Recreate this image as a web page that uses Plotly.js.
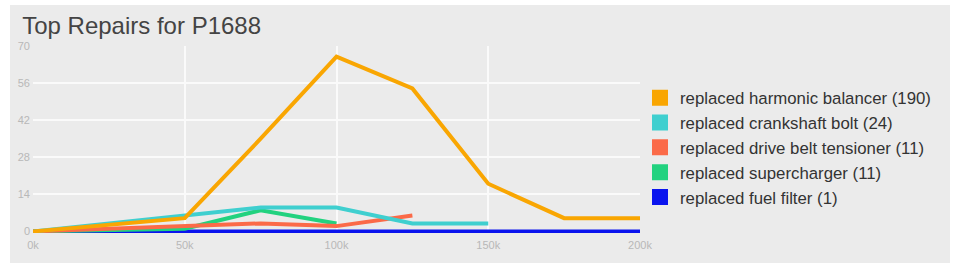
<!DOCTYPE html>
<html><head><meta charset="utf-8">
<script src="https://cdn.plot.ly/plotly-3.0.1.min.js"></script>
<style>
html,body{margin:0;padding:0;background:#fff;width:956px;height:270px;overflow:hidden}
#chart{position:absolute;left:10px;top:5px;width:940px;height:258px}
</style></head>
<body><div id="chart"></div>
<script>
const mileage = [0, 50000, 75000, 100000, 125000, 150000, 175000, 200000];
const seriesNames = [
  "replaced harmonic balancer (190)",
  "replaced crankshaft bolt (24)",
  "replaced drive belt tensioner (11)",
  "replaced supercharger (11)",
  "replaced fuel filter (1)"
];
const harmonicBalancer = [0, 5, 35, 66, 54, 18, 5, 5];
const crankshaftBolt   = [0, 6, 9, 9, 3, 3, null, null];
const beltTensioner    = [0, 2, 3, 2, 6, null, null, null];
const supercharger     = [0, 1, 8, 3, null, null, null, null];
const fuelFilter       = [0, 0, 0, 0, 0, 0, 0, 0];
const xTickVals = [0, 50000, 100000, 150000, 200000];
const xTickText = ["0k", "50k", "100k", "150k", "200k"];
const yTickVals = [0, 14, 28, 42, 56, 70];

const colors = ["#f9a602", "#3fcfcf", "#fb6a48", "#22d27f", "#0a14ee"];
const values = [harmonicBalancer, crankshaftBolt, beltTensioner, supercharger, fuelFilter];

const traces = [];
const drawOrder = [4, 3, 2, 1, 0];
drawOrder.forEach(i => {
  traces.push({
    x: mileage, y: values[i], type: "scatter", mode: "lines",
    line: {color: colors[i], width: 4},
    name: seriesNames[i], showlegend: false,
    connectgaps: false, hoverinfo: "skip"
  });
});
seriesNames.forEach((n, i) => {
  traces.push({
    x: [null], y: [null], type: "scatter", mode: "markers",
    marker: {color: colors[i], symbol: "square", size: 16},
    name: n, showlegend: true
  });
});

const layout = {
  width: 940, height: 258,
  paper_bgcolor: "#ebebeb", plot_bgcolor: "#ebebeb",
  margin: {l: 23, r: 310, t: 41, b: 30},
  font: {family: "Liberation Sans, Arial, sans-serif"},
  title: {text: "Top Repairs for P1688", x: 0.013, xanchor: "left", y: 0.92, yanchor: "middle",
          font: {size: 24, color: "#444"}},
  xaxis: {range: [0, 200000], tickvals: xTickVals, ticktext: xTickText,
          showgrid: true, gridcolor: "#fafafa", gridwidth: 2, zeroline: false, showline: false,
          tickfont: {size: 11, color: "#b8b8b8"}, ticks: "", fixedrange: true, ticklabelstandoff: 4},
  yaxis: {range: [-0.6, 70], tickvals: yTickVals, showgrid: true, gridcolor: "#fafafa", gridwidth: 2,
          zeroline: false, showline: false, tickfont: {size: 11, color: "#b8b8b8"}, ticks: "",
          ticklabelstandoff: 2},
  showlegend: true,
  legend: {x: 1.0, xanchor: "left", y: 0.817, yanchor: "top", traceorder: "normal",
           font: {size: 16.8, color: "#333"}, bgcolor: "rgba(0,0,0,0)"}
};
Plotly.newPlot("chart", traces, layout, {displayModeBar: false, staticPlot: true});
</script></body></html>
